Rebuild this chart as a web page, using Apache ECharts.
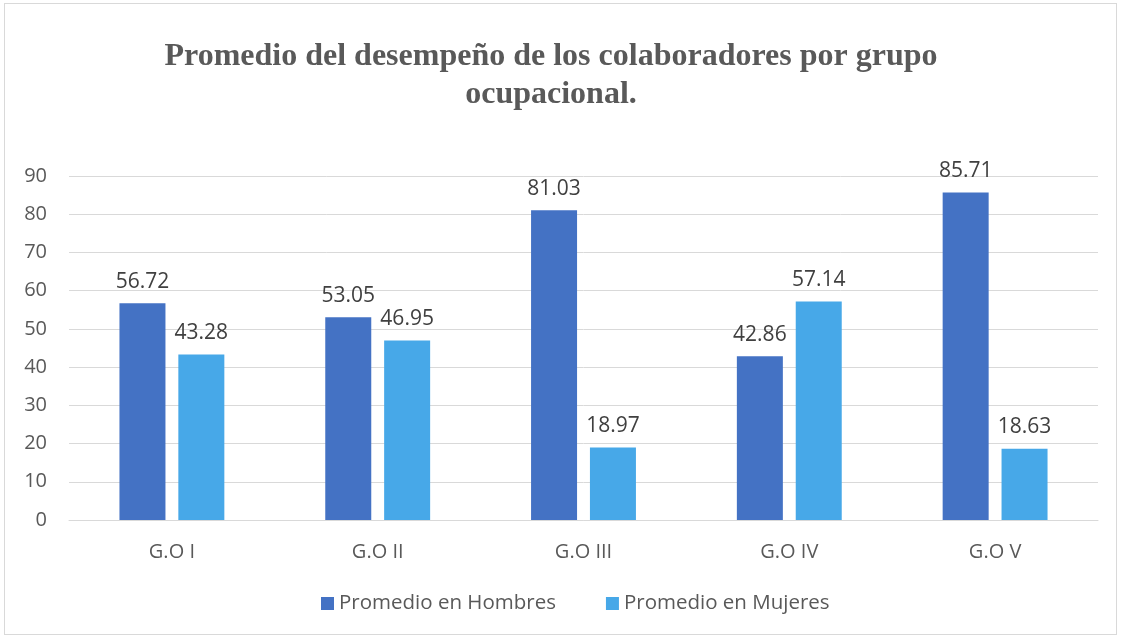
<!DOCTYPE html>
<html><head><meta charset="utf-8">
<script src="https://cdn.jsdelivr.net/npm/echarts@6/dist/echarts.min.js"></script>
<style>html,body{margin:0;padding:0;background:#fff}
#frame{position:absolute;left:4px;top:3px;width:1113px;height:632px;border:1px solid #d9d9d9;box-sizing:border-box}
#c{width:1122px;height:639px;position:absolute;left:0;top:0}</style>
</head><body><div id="frame"></div><div id="c"></div>
<script>
const categories = ['G.O I', 'G.O II', 'G.O III', 'G.O IV', 'G.O V'];
const hombres = [56.72, 53.05, 81.03, 42.86, 85.71];
const mujeres = [43.28, 46.95, 18.97, 57.14, 18.63];
const seriesNames = ['Promedio en Hombres', 'Promedio en Mujeres'];
const titleText = 'Promedio del desempeño de los colaboradores por grupo\nocupacional.';

const chart = echarts.init(document.getElementById('c'), null, {renderer: 'canvas'});
const ff = 'Open Sans, Liberation Sans, sans-serif';
const labelStyle = {show: true, position: 'top', distance: 11, color: '#404040', fontSize: 21, fontFamily: ff,
  formatter: p => p.value.toFixed(2)};
chart.setOption({
  animation: false,
  title: {text: titleText, left: 546, textAlign: 'center', top: 33,
    textStyle: {fontFamily: 'Liberation Serif, serif', fontWeight: 'bold', fontSize: 32, color: '#595959', lineHeight: 38}},
  legend: {bottom: 20, left: 316, itemWidth: 13, itemHeight: 13, itemGap: 50, icon: 'rect',
    textStyle: {fontSize: 20.5, color: '#595959', fontFamily: ff}},
  grid: {left: 69, right: 24, top: 176, bottom: 119, containLabel: false},
  xAxis: {type: 'category', data: categories,
    axisLine: {lineStyle: {color: '#d9d9d9'}}, axisTick: {show: false},
    axisLabel: {color: '#595959', fontSize: 20, margin: 22, fontFamily: ff}},
  yAxis: {type: 'value', min: 0, max: 90, interval: 10,
    axisLine: {show: false}, axisTick: {show: false},
    splitLine: {lineStyle: {color: '#d9d9d9'}},
    axisLabel: {color: '#595959', fontSize: 20, margin: 22, fontFamily: ff}},
  series: [
    {name: seriesNames[0], type: 'bar', data: hombres, barWidth: 46, barGap: '28%', itemStyle: {color: '#4472C4'}, label: labelStyle},
    {name: seriesNames[1], type: 'bar', data: mujeres, barWidth: 46, itemStyle: {color: '#47A8E8'}, label: labelStyle}
  ]
});
</script></body></html>
